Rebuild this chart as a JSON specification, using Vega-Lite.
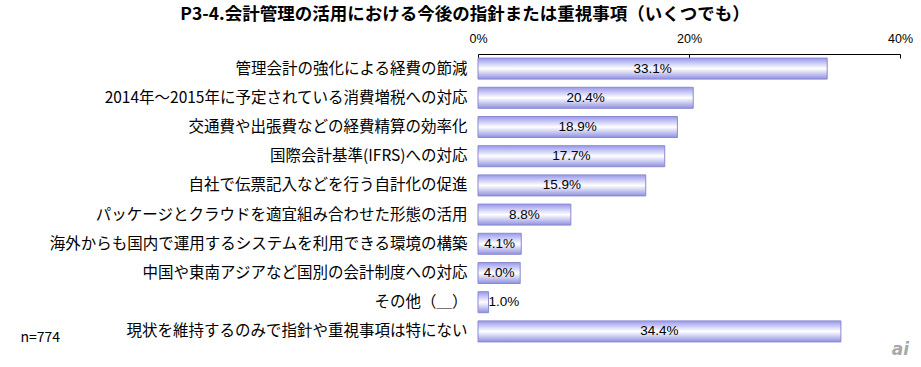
{
  "$schema": "https://vega.github.io/schema/vega-lite/v6.json",
  "autosize": "none",
  "width": 422,
  "height": 292,
  "padding": {"left": 478, "top": 54, "right": 21, "bottom": 21},
  "background": "white",
  "config": {"view": {"stroke": null}, "font": "Noto Sans CJK JP"},
  "title": {
    "text": "P3-4.会計管理の活用における今後の指針または重視事項（いくつでも）",
    "anchor": "middle",
    "frame": "group",
    "dx": -224,
    "offset": 9,
    "fontSize": 17.5,
    "fontWeight": "bold",
    "font": "Noto Sans CJK JP",
    "color": "#000000"
  },
  "data": {
    "values": [
      {"item": "管理会計の強化による経費の節減", "value": 33.1, "label": "33.1%"},
      {"item": "2014年～2015年に予定されている消費増税への対応", "value": 20.4, "label": "20.4%"},
      {"item": "交通費や出張費などの経費精算の効率化", "value": 18.9, "label": "18.9%"},
      {"item": "国際会計基準(IFRS)への対応", "value": 17.7, "label": "17.7%"},
      {"item": "自社で伝票記入などを行う自計化の促進", "value": 15.9, "label": "15.9%"},
      {"item": "パッケージとクラウドを適宜組み合わせた形態の活用", "value": 8.8, "label": "8.8%"},
      {"item": "海外からも国内で運用するシステムを利用できる環境の構築", "value": 4.1, "label": "4.1%"},
      {"item": "中国や東南アジアなど国別の会計制度への対応", "value": 4.0, "label": "4.0%"},
      {"item": "その他（＿）", "value": 1.0, "label": "1.0%"},
      {"item": "現状を維持するのみで指針や重視事項は特にない", "value": 34.4, "label": "34.4%"}
    ]
  },
  "encoding": {
    "y": {
      "field": "item",
      "type": "nominal",
      "sort": null,
      "scale": {"paddingInner": 0.28, "paddingOuter": 0.14},
      "axis": {
        "title": "n=774",
        "titleAngle": 0,
        "titleX": -458,
        "titleY": 283,
        "titleAlign": "left",
        "titleBaseline": "middle",
        "titleFontWeight": "normal",
        "titleFontSize": 14,
        "titleFont": "Noto Sans CJK JP",
        "titleColor": "#000000",
        "domain": false,
        "ticks": false,
        "labelPadding": 11,
        "labelFontSize": 15.5,
        "labelColor": "#000000",
        "labelFont": "Noto Sans CJK JP",
        "labelLimit": 470
      }
    }
  },
  "layer": [
    {
      "mark": {
        "type": "bar",
        "color": {
          "gradient": "linear",
          "x1": 0, "y1": 0, "x2": 0, "y2": 1,
          "stops": [
            {"offset": 0, "color": "#9898ec"},
            {"offset": 0.5, "color": "#ffffff"},
            {"offset": 1, "color": "#9090e2"}
          ]
        },
        "stroke": "#8a8ad0",
        "strokeWidth": 1
      },
      "encoding": {
        "x": {
          "field": "value",
          "type": "quantitative",
          "scale": {"domain": [0, 40], "nice": false},
          "axis": {
            "orient": "top",
            "values": [0, 20, 40],
            "labelExpr": "datum.value + '%'",
            "labelFlush": false,
            "grid": false,
            "domainColor": "#000000",
            "domainWidth": 1,
            "tickColor": "#000000",
            "tickSize": -4,
            "labelPadding": 13,
            "labelFontSize": 12.5,
            "labelFont": "Liberation Sans",
            "labelColor": "#000000",
            "title": "ai",
            "titleX": 422,
            "titleY": 295,
            "titleAlign": "center",
            "titleBaseline": "middle",
            "titleFontSize": 17,
            "titleFontStyle": "italic",
            "titleFontWeight": "bold",
            "titleFont": "DejaVu Sans",
            "titleColor": "#a8a8a8"
          }
        }
      }
    },
    {
      "transform": [
        {"filter": "datum.value >= 2"},
        {"calculate": "datum.value / 2", "as": "mid"}
      ],
      "mark": {"type": "text", "fontSize": 13.5, "font": "Liberation Sans", "color": "#000000", "align": "center", "baseline": "middle"},
      "encoding": {
        "x": {"field": "mid", "type": "quantitative"},
        "text": {"field": "label"}
      }
    },
    {
      "transform": [{"filter": "datum.value < 2"}],
      "mark": {"type": "text", "fontSize": 13.5, "font": "Liberation Sans", "color": "#000000", "align": "left", "baseline": "middle", "dx": 0},
      "encoding": {
        "x": {"field": "value", "type": "quantitative"},
        "text": {"field": "label"}
      }
    }
  ]
}
